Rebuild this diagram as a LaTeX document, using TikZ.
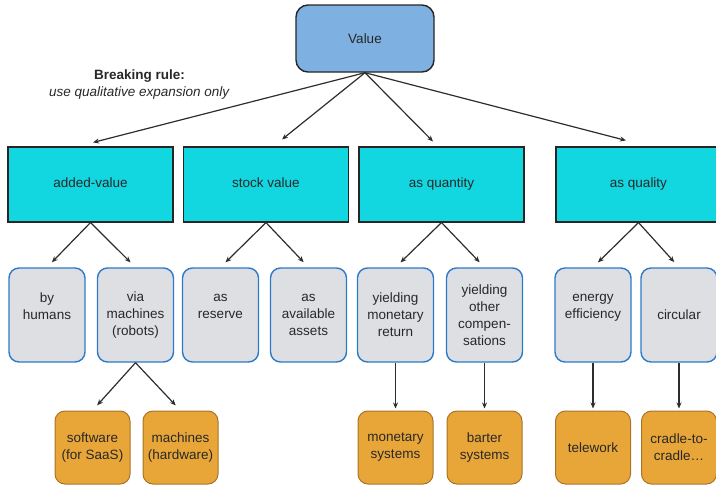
\documentclass[tikz,border=0pt]{standalone}
\usepackage{fontspec}
\setmainfont{Liberation Sans}
\usetikzlibrary{arrows.meta}
\definecolor{txt}{RGB}{40,40,40}
\definecolor{rootfill}{RGB}{126,176,226}
\definecolor{catfill}{RGB}{18,214,224}
\definecolor{subfill}{RGB}{222,223,226}
\definecolor{subedge}{RGB}{45,122,202}
\definecolor{leaffill}{RGB}{232,166,56}
\definecolor{leafedge}{RGB}{170,116,40}
\definecolor{link}{RGB}{45,45,45}
\tikzset{
  base/.style={inner sep=0pt, align=center, text=txt,
    font=\fontsize{13.5}{17}\selectfont},
  rootbox/.style={base, draw=black!85, line width=1.4pt, fill=rootfill,
    rounded corners=12pt, minimum width=138pt, minimum height=67pt},
  catbox/.style={base, draw=black!85, line width=1.1pt, fill=catfill,
    minimum width=165pt, minimum height=75pt},
  subbox/.style={base, draw=subedge, line width=1.4pt, fill=subfill,
    rounded corners=10pt, minimum width=76pt, minimum height=94pt},
  leafbox/.style={base, draw=leafedge, line width=1pt, fill=leaffill,
    rounded corners=10pt, minimum width=75pt, minimum height=73pt},
  link/.style={draw=link, line width=1.2pt,
    -{Stealth[length=6pt,width=5pt]}},
  fanlink/.style={link, shorten >=7pt},
  droplink/.style={link, shorten >=2pt}
}
\begin{document}
\begin{tikzpicture}[x=1pt, y=-1pt]
\useasboundingbox (0,0) rectangle (716,485);

% root
\node[rootbox] (value) at (365,38.5) {Value};

% rule note
\node[base] (rule) at (139.5,85) {\textbf{Breaking rule:}\\\textit{use qualitative expansion only}};

% categories (labels sit a little above the middle)
\node[catbox] (added) at (90.5,184.5) {added-value\\[-13pt]};
\node[catbox] (stock) at (266,184.5) {stock value\\[-13pt]};
\node[catbox] (quant) at (441.5,184.5) {as quantity\\[-13pt]};
\node[catbox] (qual)  at (638.5,184.5) {as quality\\[-13pt]};

% sub-categories (short labels start on the same line as the three-line ones)
\node[subbox] (humans)   at (47,315)    {by\\humans\\\phantom{x}};
\node[subbox] (viamach)  at (135.5,315) {via\\machines\\(robots)};
\node[subbox] (reserve)  at (220.5,315) {as\\reserve\\\phantom{x}};
\node[subbox] (assets)   at (308.5,315) {as\\available\\assets};
\node[subbox] (yieldmon) at (395.5,315) {yielding\\monetary\\return};
\node[subbox] (yieldoth) at (484.5,315) {yielding\\other\\compen-\\sations};
\node[subbox] (energy)   at (593,315)   {energy\\efficiency\\\phantom{x}};
\node[subbox] (circular) at (679,315)   {circular};

% leaves
\node[leafbox] (software) at (92.5,447.5)  {software\\(for SaaS)};
\node[leafbox] (hardware) at (180.5,447.5) {machines\\(hardware)};
\node[leafbox] (monsys)   at (395.5,447.5) {monetary\\systems};
\node[leafbox] (barter)   at (484.5,447.5) {barter\\systems};
\node[leafbox] (telework) at (593,447.5)   {telework};
\node[leafbox] (cradle)   at (679,447.5)   {cradle-to-\\cradle\ldots};

% root to categories
\draw[link] (value.south) -- ([xshift=2.5pt,yshift=4pt]added.north);
\draw[link] (value.south) -- ([xshift=16pt,yshift=7pt]stock.north);
\draw[link] (value.south) -- ([xshift=-8.5pt,yshift=5pt]quant.north);
\draw[link] (value.south) -- ([xshift=-12.5pt,yshift=6pt]qual.north);

% categories to sub-categories
\draw[fanlink] (added.south) -- (humans.north);
\draw[fanlink] (added.south) -- (viamach.north);
\draw[fanlink] (stock.south) -- (reserve.north);
\draw[fanlink] (stock.south) -- (assets.north);
\draw[fanlink] (quant.south) -- (yieldmon.north);
\draw[fanlink] (quant.south) -- (yieldoth.north);
\draw[fanlink] (qual.south)  -- (energy.north);
\draw[fanlink] (qual.south)  -- (circular.north);

% machines split
\draw[fanlink] (viamach.south) -- (software.north);
\draw[fanlink] (viamach.south) -- (hardware.north);

% straight drops
\draw[droplink] (yieldmon.south) -- (monsys.north);
\draw[droplink] (yieldoth.south) -- (barter.north);
\draw[droplink] (energy.south)   -- (telework.north);
\draw[droplink] (circular.south) -- (cradle.north);
\end{tikzpicture}
\end{document}
